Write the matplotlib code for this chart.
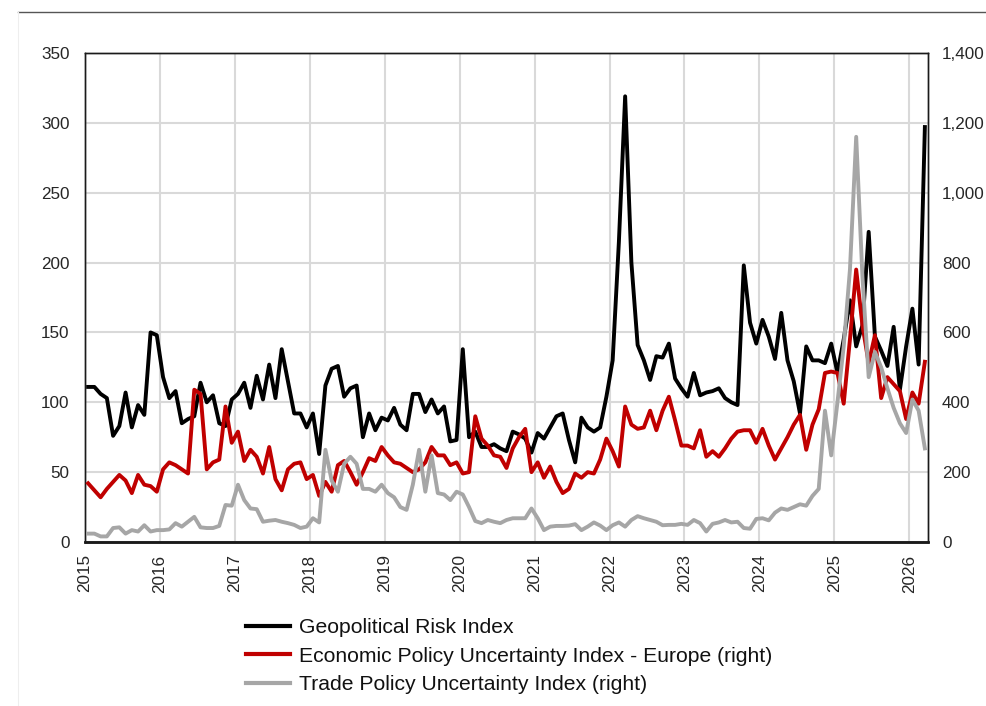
import matplotlib
matplotlib.use("Agg")
import matplotlib.pyplot as plt
from matplotlib.lines import Line2D
from matplotlib.ticker import FuncFormatter
import numpy as np

plt.rcParams['font.family'] = ['Liberation Sans', 'DejaVu Sans']

years = [str(y) for y in range(2015, 2027)]

# Monthly data, Jan 2015 - Mar 2026
gpr = [
    111, 111, 106, 103, 76, 83, 107, 82, 98, 91, 150, 148,      # 2015
    118, 103, 108, 85, 88, 90, 114, 100, 105, 85, 83, 102,      # 2016
    106, 114, 96, 119, 102, 127, 103, 138, 115, 92, 92, 82,     # 2017
    92, 63, 112, 124, 126, 104, 110, 112, 75, 92, 80, 89,       # 2018
    87, 96, 84, 80, 106, 106, 93, 102, 92, 97, 72, 73,          # 2019
    138, 75, 79, 68, 68, 70, 67, 65, 79, 77, 74, 64,            # 2020
    78, 74, 82, 90, 92, 73, 57, 89, 82, 79, 82, 104,            # 2021
    130, 215, 319, 200, 141, 130, 116, 133, 132, 142, 117, 110, # 2022
    104, 121, 105, 107, 108, 110, 103, 100, 98, 198, 157, 142,  # 2023
    159, 147, 131, 164, 130, 115, 92, 140, 130, 130, 128, 142,  # 2024
    121, 145, 173, 140, 155, 222, 147, 137, 126, 154, 109, 140, # 2025
    167, 127, 297,                                              # 2026
]

epu_europe = [
    168, 148, 128, 152, 172, 192, 176, 140, 192, 164, 160, 144,
    208, 228, 220, 208, 196, 436, 424, 208, 228, 236, 388, 284,
    316, 232, 264, 244, 196, 272, 180, 148, 208, 224, 228, 180,
    192, 132, 172, 144, 220, 232, 200, 164, 200, 240, 232, 272,
    248, 228, 224, 212, 200, 208, 228, 272, 248, 248, 220, 228,
    196, 200, 360, 296, 276, 248, 244, 212, 268, 300, 324, 200,
    228, 184, 216, 172, 140, 152, 196, 184, 200, 196, 236, 296,
    260, 216, 388, 336, 324, 328, 376, 320, 376, 416, 348, 276,
    276, 268, 320, 244, 260, 244, 268, 296, 316, 320, 320, 284,
    324, 276, 236, 268, 300, 336, 364, 264, 336, 380, 484, 488,
    484, 396, 580, 780, 620, 512, 592, 412, 472, 452, 432, 352,
    428, 396, 516,
]

tpu = [
    24, 24, 16, 16, 40, 42, 24, 34, 30, 48, 30, 34,
    34, 36, 54, 44, 58, 72, 42, 40, 40, 46, 106, 104,
    164, 120, 96, 94, 58, 61, 63, 58, 54, 49, 40, 44,
    68, 56, 264, 176, 144, 224, 244, 224, 152, 152, 144, 164,
    140, 128, 100, 92, 164, 264, 144, 248, 140, 136, 120, 144,
    136, 100, 60, 54, 63, 58, 54, 63, 68, 68, 68, 96,
    68, 34, 44, 46, 46, 47, 51, 34, 44, 56, 47, 34,
    48, 56, 44, 63, 74, 68, 63, 58, 48, 49, 49, 52,
    49, 63, 54, 30, 52, 56, 63, 56, 58, 40, 38, 66,
    68, 62, 84, 96, 92, 100, 108, 104, 132, 152, 376, 248,
    400, 560, 780, 1160, 760, 472, 544, 500, 440, 384, 340, 312,
    408, 376, 268,
]

labels = ["Geopolitical Risk Index",
          "Economic Policy Uncertainty Index - Europe (right)",
          "Trade Policy Uncertainty Index (right)"]

W, H = 986, 706
fig = plt.figure(figsize=(W / 100, H / 100), dpi=100)
L, R, T, B = 85, 928, 53, 542
ax = fig.add_axes([L / W, 1 - B / H, (R - L) / W, (B - T) / H])
ax2 = ax.twinx()

x = np.arange(len(gpr)) + 0.5
lw = 2.8
l1, = ax.plot(x, gpr, color="black", lw=lw, zorder=3, solid_joinstyle='round')
l2, = ax2.plot(x, epu_europe, color="#c00000", lw=lw, zorder=3, solid_joinstyle='round')
l3, = ax2.plot(x, tpu, color="#a6a6a6", lw=lw, zorder=4, solid_joinstyle='round')

ax.set_xlim(0, 135)
ax.set_ylim(0, 350)
ax2.set_ylim(0, 1400)
ax.set_yticks(range(0, 351, 50))
ax2.set_yticks(range(0, 1401, 200))
ax2.yaxis.set_major_formatter(FuncFormatter(lambda v, p: f"{int(v):,}"))
ax.set_xticks([12 * i for i in range(len(years))])
ax.set_xticklabels(years, rotation=90)

ax.grid(True, color="#d9d9d9", lw=1.5, zorder=0)
ax.set_axisbelow(True)

tc = "#262626"
ax.tick_params(axis='y', length=0, pad=11, labelsize=12.3, labelcolor=tc)
ax.tick_params(axis='x', length=0, pad=9, labelsize=12.3, labelcolor=tc)
ax2.tick_params(axis='y', length=0, pad=10, labelsize=12.3, labelcolor=tc)

for a in (ax, ax2):
    for s in a.spines.values():
        s.set_color("#1a1a1a")
        s.set_linewidth(1.0)
ax.spines['bottom'].set_linewidth(1.8)
ax2.spines['bottom'].set_linewidth(1.8)

leg = fig.legend([l1, l2, l3], labels, loc="upper left",
                 bbox_to_anchor=(246 / W, 1 - 618 / H), frameon=False,
                 fontsize=15.2, handlelength=2.1, handletextpad=0.4,
                 labelspacing=0.45, borderpad=0, borderaxespad=0)
for t in leg.get_texts():
    t.set_color("#111111")
for h in leg.legend_handles:
    h.set_linewidth(3.0)

fig.add_artist(Line2D([18 / W, 1], [1 - 12 / H, 1 - 12 / H], color="#555555", lw=1.0))
fig.add_artist(Line2D([18 / W, 18 / W], [0, 1 - 12 / H], color="#eeeeee", lw=0.8))

fig.savefig("out.png", dpi=100)
